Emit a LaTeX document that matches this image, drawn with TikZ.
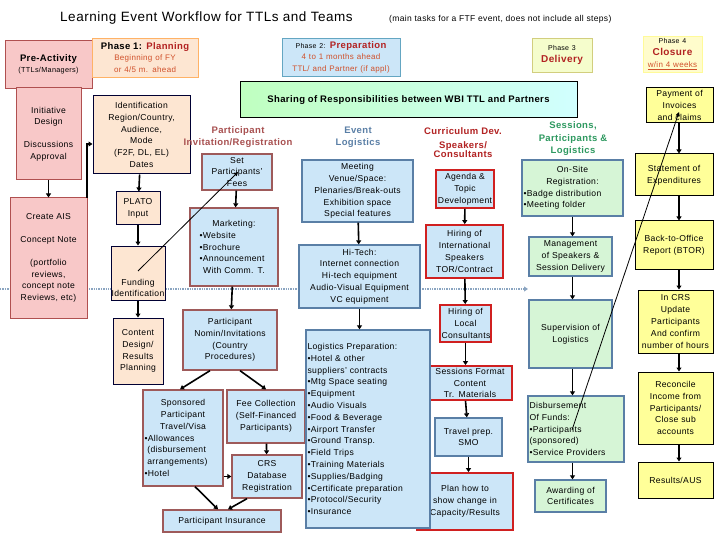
\documentclass[tikz,border=0pt]{standalone}
\usepackage{fontspec}
\setmainfont{Liberation Sans}[LetterSpace=4]
\usetikzlibrary{arrows.meta}
\definecolor{bfill}{HTML}{CCE6F8}
\definecolor{sborder}{HTML}{5A7FA6}
\definecolor{brborder}{HTML}{9E5A5A}
\definecolor{rborder}{HTML}{D02020}
\definecolor{pfill}{HTML}{FDE6D2}
\definecolor{pkfill}{HTML}{F8C8C8}
\definecolor{pkborder}{HTML}{B05050}
\definecolor{gfill}{HTML}{D6F5D6}
\definecolor{yfill}{HTML}{FFFF99}
\definecolor{hred}{HTML}{A85050}
\definecolor{hblue}{HTML}{5A7FA6}
\definecolor{hgreen}{HTML}{2E9960}
\definecolor{dred}{HTML}{B22222}
\definecolor{ored}{HTML}{D0502A}
\newcommand\bx[7]{\node[box,#2,minimum width={(#5-#3)*1pt},minimum height={(#6-#4)*1pt},text width={(#5-#3)*1pt-3pt}] (#1) at ({(#3+#5)/2},{(#4+#6)/2}) {#7};}
\tikzset{
 box/.style={draw,line width=1.3pt,inner sep=1pt,align=center,font=\fontsize{8.6}{11.8}\selectfont},
 blue/.style={fill=bfill,draw=sborder},
 brown/.style={fill=bfill,draw=brborder},
 redb/.style={fill=bfill,draw=rborder,line width=1.8pt},
 peach/.style={fill=pfill,draw=black!80!blue,line width=1pt},
 pink/.style={fill=pkfill,draw=pkborder,line width=1pt},
 green/.style={fill=gfill,draw=sborder},
 yel/.style={fill=yfill,draw=black,line width=1pt},
 arr/.style={-{Triangle[length=4pt,width=5pt]},line width=1.6pt},
 thin arr/.style={-{Triangle[length=4pt,width=4pt]},line width=0.8pt},
 hdr/.style={font=\fontsize{9.5}{12.5}\selectfont\bfseries,align=center,inner sep=0pt},
}
\begin{document}
\begin{tikzpicture}[x=1pt,y=-1pt]
\useasboundingbox[fill=white] (0,0) rectangle (720,540);
% title
\node[anchor=west,inner sep=0,font=\fontsize{13.5}{15}\selectfont] (title) at (60,18) {Learning Event Workflow for TTLs and Teams};
\node[anchor=west,inner sep=0,font=\fontsize{8.5}{10}\selectfont] (sub) at (389,19) {(main tasks for a FTF event, does not include all steps)};
% dotted arrow (behind)
\coordinate (dl) at (0,289);
\coordinate (dr) at (528,289);
\draw[densely dotted,line width=1.4pt,draw=sborder!70,-{Triangle[length=4pt,width=5pt]}] (dl) -- (dr);
% phases
\bx{pre}{pink,line width=0.8pt}{5}{40}{92}{88}{{\fontsize{9.5}{12}\selectfont\bfseries Pre-Activity}\\[-1pt]{\fontsize{7.3}{9}\selectfont(TTLs/Managers)}}
\bx{ph1}{fill=pfill,draw=orange!60,line width=0.8pt}{92}{38}{198}{77}{{\fontsize{9.5}{12}\selectfont\bfseries Phase 1: \textcolor{dred}{Planning}}\\{\color{ored}\fontsize{8}{10.5}\selectfont Beginning of FY\\or 4/5 m. ahead}}
\bx{ph2}{fill=bfill,draw=cyan!50!gray,line width=0.8pt}{282}{38}{400}{76}{{\fontsize{7}{9}\selectfont Phase 2:} {\fontsize{9.5}{11}\selectfont\bfseries\color{dred}Preparation}\\{\color{ored}\fontsize{8}{11}\selectfont 4 to 1 months ahead\\TTL/ and Partner (if appl)}}
\bx{ph3}{fill=gfill!60!yellow!40,draw=olive!40,line width=0.8pt}{532}{38}{592}{72}{{\fontsize{7}{9}\selectfont Phase 3}\\{\fontsize{10}{12}\selectfont\bfseries\color{dred}Delivery}}
\bx{ph4}{fill=yellow!20,draw=yellow!40,line width=0.8pt}{643}{36}{702}{72}{{\fontsize{7}{8}\selectfont Phase 4}\\{\fontsize{10}{11}\selectfont\bfseries\color{dred}Closure}\\{\color{ored}\fontsize{8}{10}\selectfont\underline{w/in 4 weeks}}}
% banner
\bx{share}{left color=green!25,right color=cyan!18,draw=black,line width=1pt}{240}{82}{577}{118}{\fontsize{9.5}{11}\selectfont\bfseries Sharing of Responsibilities between WBI TTL and Partners}
% pre-activity column
\bx{init}{pink}{16}{88}{81}{180}{Initiative\\Design\\[11pt]Discussions\\Approval}
\bx{ais}{pink}{10}{198}{87}{318}{Create AIS\\[11pt]Concept Note\\[11pt](portfolio\\reviews,\\concept note\\Reviews, etc)}
% phase 1
\bx{ident}{peach}{93}{96}{190}{174}{Identification\\Region/Country,\\Audience,\\Mode\\(F2F, DL, EL)\\Dates}
\bx{plato}{peach}{116}{192}{160}{225}{PLATO\\Input}
\bx{fund}{peach}{111}{246}{165}{300}{}
\node[box,draw=none,text width=60pt] (fundt) at (138,288) {Funding\\Identification};
\bx{content}{peach}{113}{318}{163}{384}{Content\\Design/\\Results\\Planning}
% participant column
\node[hdr,text=hred] (hpart) at (238,137) {Participant\\Invitation/Registration};
\bx{fees}{brown}{202}{154}{272}{190}{Set\\Participants'\\Fees}
\bx{mkt}{brown}{190}{208}{278}{286}{\centering Marketing:\par\raggedright\leftskip=8pt\textbullet Website\\\textbullet Brochure\\\textbullet Announcement\par\centering With Comm. T.\par}
\bx{nomin}{brown}{183}{310}{277}{370}{Participant\\Nomin/Invitations\\(Country\\Procedures)}
\bx{spons}{brown}{143}{390}{223}{486}{\centering Sponsored\\Participant\\Travel/Visa\par\raggedright\textbullet Allowances\\\ (disbursement\\\ arrangements)\\\textbullet Hotel\par}
\bx{feec}{brown}{227}{390}{305}{443}{Fee Collection\\(Self-Financed\\Participants)}
\bx{crs}{brown}{232}{455}{302}{498}{CRS\\Database\\Registration}
\bx{ins}{brown}{163}{510}{281}{532}{Participant Insurance}
% logistics column
\node[hdr,text=hblue] (hlog) at (358,137) {Event\\Logistics};
\bx{venue}{blue}{302}{160}{413}{222}{Meeting\\Venue/Space:\\Plenaries/Break-outs\\Exhibition space\\Special features}
\bx{hitech}{blue}{299}{245}{420}{308}{Hi-Tech:\\Internet connection\\Hi-tech equipment\\Audio-Visual Equipment\\VC equipment}
% curriculum column
\node[hdr,text=dred] (hcur) at (463,131) {Curriculum Dev.};
\node[hdr,text=dred,font=\fontsize{9.5}{9}\selectfont\bfseries] (hspk) at (463,150) {Speakers/\\Consultants};
\bx{agenda}{redb}{436}{170}{494}{208}{Agenda \&\\Topic\\Development}
\bx{intl}{redb}{426}{225}{503}{278}{Hiring of\\International\\Speakers\\TOR/Contract}
\bx{local}{redb}{440}{305}{491}{342}{Hiring of\\Local\\Consultants}
\bx{sess}{redb}{414}{366}{512}{400}{\hspace*{14pt}Sessions Format\\\hspace*{14pt}Content\\\hspace*{14pt}Tr. Materials}
\bx{travel}{blue}{435}{418}{502}{456}{Travel prep.\\SMO}
\bx{plan}{redb}{417}{473}{513}{530}{Plan how to\\show change in\\Capacity/Results}
\bx{logprep}{blue}{306}{330}{430}{528}{\raggedright Logistics Preparation:\\\textbullet Hotel \& other\\suppliers' contracts\\\textbullet Mtg Space seating\\\textbullet Equipment\\\textbullet Audio Visuals\\\textbullet Food \& Beverage\\\textbullet Airport Transfer\\\textbullet Ground Transp.\\\textbullet Field Trips\\\textbullet Training Materials\\\textbullet Supplies/Badging\\\textbullet Certificate preparation\\\textbullet Protocol/Security\\\textbullet Insurance\par}
% sessions column
\node[hdr,text=hgreen] (hses) at (573,139) {Sessions,\\Participants \&\\Logistics};
\bx{onsite}{green}{522}{160}{623}{216}{\centering On-Site\\Registration:\par\raggedright\textbullet Badge distribution\\\textbullet Meeting folder\par}
\bx{mgmt}{green}{529}{237}{612}{276}{Management\\of Speakers \&\\Session Delivery}
\bx{superv}{green}{529}{300}{612}{368}{Supervision of\\Logistics}
\bx{disb}{green}{528}{396}{624}{462}{\raggedright Disbursement\\Of Funds:\\\textbullet Participants\\(sponsored)\\\textbullet Service Providers\par}
\bx{award}{green}{535}{480}{606}{512}{Awarding of\\Certificates}
% closure column
\bx{pay}{yel}{646}{88}{713}{123}{Payment of\\Invoices\\and claims}
\bx{stmt}{yel}{635}{154}{713}{196}{Statement of\\Expenditures}
\bx{btor}{yel}{635}{221}{713}{269}{Back-to-Office\\Report (BTOR)}
\bx{incrs}{yel}{638}{290}{713}{353}{In CRS\\Update\\Participants\\And confirm\\number of hours}
\bx{recon}{yel}{638}{372}{713}{444}{Reconcile\\Income from\\Participants/\\Close sub\\accounts}
\bx{res}{yel}{638}{462}{713}{498}{Results/AUS}
% arrows
\draw[arr] (init) -- (ais);
\coordinate (aisc) at (87,198);
\draw[arr] (aisc) |- (ident.west |- 0,144);
\draw[arr] (ident) -- (plato);
\draw[arr] (plato) -- (fund);
\draw[arr] (fund) -- (content);
\draw[arr] (fees) -- (mkt);
\draw[arr] (mkt) -- (nomin);
\draw[arr] (nomin.south -| 210,0) -- (spons.north -| 180,0);
\draw[arr] (nomin.south -| 240,0) -- (feec.north -| 266,0);
\draw[arr] (feec) -- (crs);
\draw[arr] (spons.east |- crs) -- (crs.west);
\draw[arr] (spons.south -| 195,0) -- (ins.north -| 218,0);
\draw[arr] (crs.south -| 247,0) -- (ins.north -| 228,0);
\draw[arr] (venue) -- (hitech);
\draw[arr] (hitech) -- (logprep.north -| hitech);
\draw[arr] (agenda) -- (intl);
\draw[arr] (intl) -- (local);
\draw[arr] (local) -- (local |- sess.north);
\draw[arr] (local |- sess.south) -- (travel);
\draw[arr] (travel) -- (travel |- plan.north);
\draw[arr] (onsite) -- (onsite |- mgmt.north);
\draw[arr] (onsite |- mgmt.south) -- (onsite |- superv.north);
\draw[arr] (onsite |- superv.south) -- (onsite |- disb.north);
\draw[arr] (onsite |- disb.south) -- (onsite |- award.north);
\draw[arr] (pay.south -| 679,0) -- (stmt.north -| 679,0);
\draw[arr] (stmt.south -| 679,0) -- (btor.north -| 679,0);
\draw[arr] (btor.south -| 679,0) -- (incrs.north -| 679,0);
\draw[arr] (incrs.south -| 679,0) -- (recon.north -| 679,0);
\draw[arr] (recon.south -| 679,0) -- (res.north -| 679,0);
% thin diagonal lines
\coordinate (f1) at (138,271);
\coordinate (s1) at (238,172);
\draw[thin arr] (f1) -- (s1);
\coordinate (d1) at (572,430);
\coordinate (p1) at (679,112);
\draw[thin arr] (d1) -- (p1);
\end{tikzpicture}
\end{document}
